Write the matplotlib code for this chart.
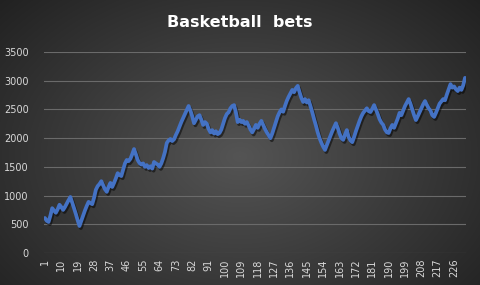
import numpy as np
import matplotlib
matplotlib.use("Agg")
import matplotlib.pyplot as plt
import matplotlib.patheffects as pe

# Значения ставок (по 10 на строку)
bets = [
    609, 560, 540, 650, 780, 740, 700, 760, 840, 800,
    750, 800, 860, 920, 975, 880, 780, 680, 570, 470,
    560, 650, 740, 820, 890, 870, 850, 960, 1100, 1165,
    1200, 1250, 1180, 1110, 1065, 1150, 1220, 1150, 1220, 1300,
    1390, 1360, 1340, 1450, 1560, 1620, 1600, 1640, 1720, 1810,
    1720, 1620, 1565, 1540, 1560, 1500, 1530, 1480, 1510, 1470,
    1585, 1560, 1540, 1500, 1560, 1650, 1760, 1915, 1960, 1985,
    1950, 1980, 2055, 2120, 2200, 2280, 2350, 2420, 2490, 2560,
    2480, 2380, 2260, 2320, 2380, 2400, 2320, 2230, 2280, 2250,
    2160, 2100, 2140, 2080, 2120, 2070, 2090, 2150, 2250, 2350,
    2420, 2450, 2520, 2560, 2575, 2450, 2280, 2320, 2280, 2300,
    2250, 2280, 2220, 2150, 2100, 2160, 2230, 2180, 2250, 2300,
    2230, 2160, 2100, 2050, 2000, 2080, 2180, 2280, 2380, 2450,
    2500, 2460, 2560, 2650, 2720, 2780, 2840, 2800, 2870, 2910,
    2800, 2700, 2630, 2680, 2620, 2660, 2560, 2450, 2330, 2220,
    2100, 2000, 1920, 1850, 1795, 1880, 1960, 2040, 2120, 2190,
    2260, 2180, 2080, 2000, 1970, 2060, 2140, 2020, 1960, 1930,
    2020, 2120, 2210, 2300, 2380, 2440, 2480, 2520, 2470, 2455,
    2510, 2575, 2500, 2420, 2330, 2270, 2230, 2150, 2100, 2090,
    2170, 2230, 2180, 2260, 2340, 2440, 2400, 2480, 2560, 2620,
    2680, 2600, 2500, 2400, 2315, 2380, 2450, 2520, 2590, 2645,
    2580, 2520, 2480, 2400, 2370, 2440, 2520, 2600, 2640, 2680,
    2660, 2760, 2850, 2940, 2880, 2900, 2850, 2820, 2880, 2840,
    2920, 3050,
]
rounds = list(range(1, len(bets) + 1))
xticks = list(range(1, len(bets) + 1, 9))
yticks = [0, 500, 1000, 1500, 2000, 2500, 3000, 3500]

fig = plt.figure(figsize=(4.8, 2.85), dpi=100)

# Фон: радиальный градиент
bg = fig.add_axes([0, 0, 1, 1], zorder=-1)
yy, xx = np.mgrid[0:1:285j, 0:1:480j]
r = np.sqrt(((xx - 0.5) / 0.75) ** 2 + ((yy - 0.55) / 0.9) ** 2)
shade = np.clip(0.33 - 0.22 * r, 0.12, 0.35)
bg.imshow(np.dstack([shade] * 3), aspect="auto", extent=[0, 1, 0, 1])
bg.axis("off")

ax = fig.add_axes([0.0917, 0.1123, 0.879, 0.7052])
ax.patch.set_alpha(0)
ax.plot(rounds, bets, color="#4472C4", linewidth=2.7, solid_capstyle="round",
        path_effects=[pe.SimpleLineShadow(offset=(1, -1.5), shadow_color="black", alpha=0.5),
                      pe.Normal()])

ax.set_xlim(0.5, len(bets) + 0.5)
ax.set_ylim(0, 3500)
ax.set_yticks(yticks)
ax.set_xticks(xticks)
ax.set_xticklabels([str(t) for t in xticks], rotation=90)
ax.tick_params(colors="#d9d9d9", labelsize=7, length=0)
ax.tick_params(axis="y", pad=11)
ax.tick_params(axis="x", pad=4)
ax.grid(axis="y", color="#6a6a6a", linewidth=0.8)
ax.set_axisbelow(True)
for s in ax.spines.values():
    s.set_visible(False)

fig.text(0.5, 0.92, "Basketball  bets", color="white", fontsize=11.5,
         fontweight="bold", ha="center", va="center")

fig.savefig("out.png", dpi=100)
